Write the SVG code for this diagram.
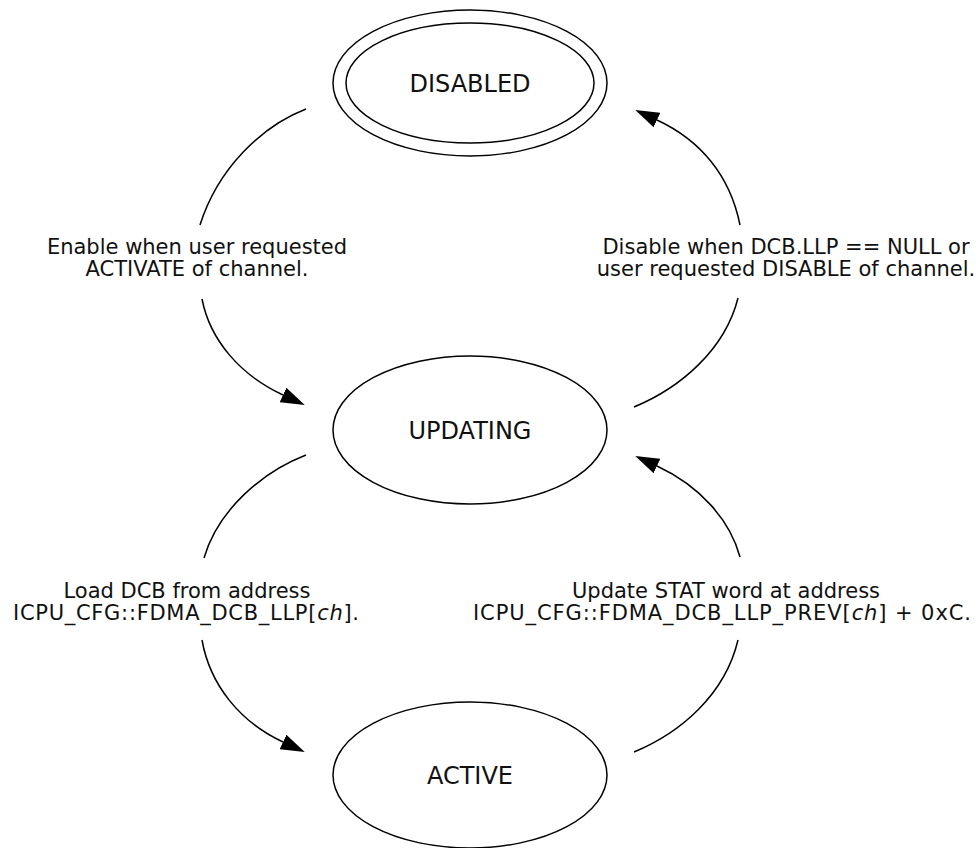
<svg xmlns="http://www.w3.org/2000/svg" width="980" height="848" viewBox="0 0 980 848">
<style>
.node{fill:none;stroke:#000;stroke-width:1.5}
.edge{fill:none;stroke:#000;stroke-width:1.5}
.nlab{font-family:"DejaVu Sans",Verdana,sans-serif;font-size:24px;fill:#111;text-anchor:middle}
.elab{font-family:"DejaVu Sans",Verdana,sans-serif;font-size:21px;fill:#111;text-anchor:middle}
</style>
<defs>
<marker id="arr" markerUnits="userSpaceOnUse" viewBox="0 0 24 16" markerWidth="24" markerHeight="16" refX="0" refY="8" orient="auto">
<path d="M0,0 L24,8 L0,16 z" fill="#000"/>
</marker>
</defs>
<rect width="980" height="848" fill="#fff"/>
<g id="DISABLED">
<ellipse class="node" cx="470" cy="83" rx="137" ry="73"/>
<ellipse class="node" cx="470" cy="83" rx="124" ry="60"/>
<text class="nlab" x="470" y="92">DISABLED</text>
</g>
<g id="UPDATING">
<ellipse class="node" cx="470" cy="430" rx="137" ry="74"/>
<text class="nlab" x="470" y="439">UPDATING</text>
</g>
<g id="ACTIVE">
<ellipse class="node" cx="470" cy="775" rx="137" ry="73"/>
<text class="nlab" x="470" y="784">ACTIVE</text>
</g>
<g id="connectors">
<g id="e1">
<path class="edge" d="M306,109 C262,126 218,168 200,225"/>
<path class="edge" d="M202,299 C210,340 240,375 283,395" marker-end="url(#arr)"/>
<text class="elab" x="197" y="254">Enable when user requested</text>
<text class="elab" x="197" y="276">ACTIVATE of channel.</text>
</g>
<g id="e2">
<path class="edge" d="M634,407 C680,388 725,350 738,298"/>
<path class="edge" d="M740,225 C730,175 700,140 657,120" marker-end="url(#arr)"/>
<text class="elab" x="786" y="254">Disable when DCB.LLP == NULL or</text>
<text class="elab" x="786" y="276">user requested DISABLE of channel.</text>
</g>
<g id="e3">
<path class="edge" d="M306,455 C262,472 218,510 204,558"/>
<path class="edge" d="M202,640 C210,685 240,722 283,742" marker-end="url(#arr)"/>
<text class="elab" x="187" y="598">Load DCB from address</text>
<text class="elab" x="186" y="620" textLength="346" lengthAdjust="spacing">ICPU_CFG::FDMA_DCB_LLP[<tspan font-style="italic">ch</tspan>].</text>
</g>
<g id="e4">
<path class="edge" d="M634,752 C680,733 725,695 738,640"/>
<path class="edge" d="M740,557 C730,520 700,486 657,466" marker-end="url(#arr)"/>
<text class="elab" x="726" y="598">Update STAT word at address</text>
<text class="elab" x="722" y="620" textLength="498" lengthAdjust="spacing">ICPU_CFG::FDMA_DCB_LLP_PREV[<tspan font-style="italic">ch</tspan>] + 0xC.</text>
</g>
</g>
</svg>
